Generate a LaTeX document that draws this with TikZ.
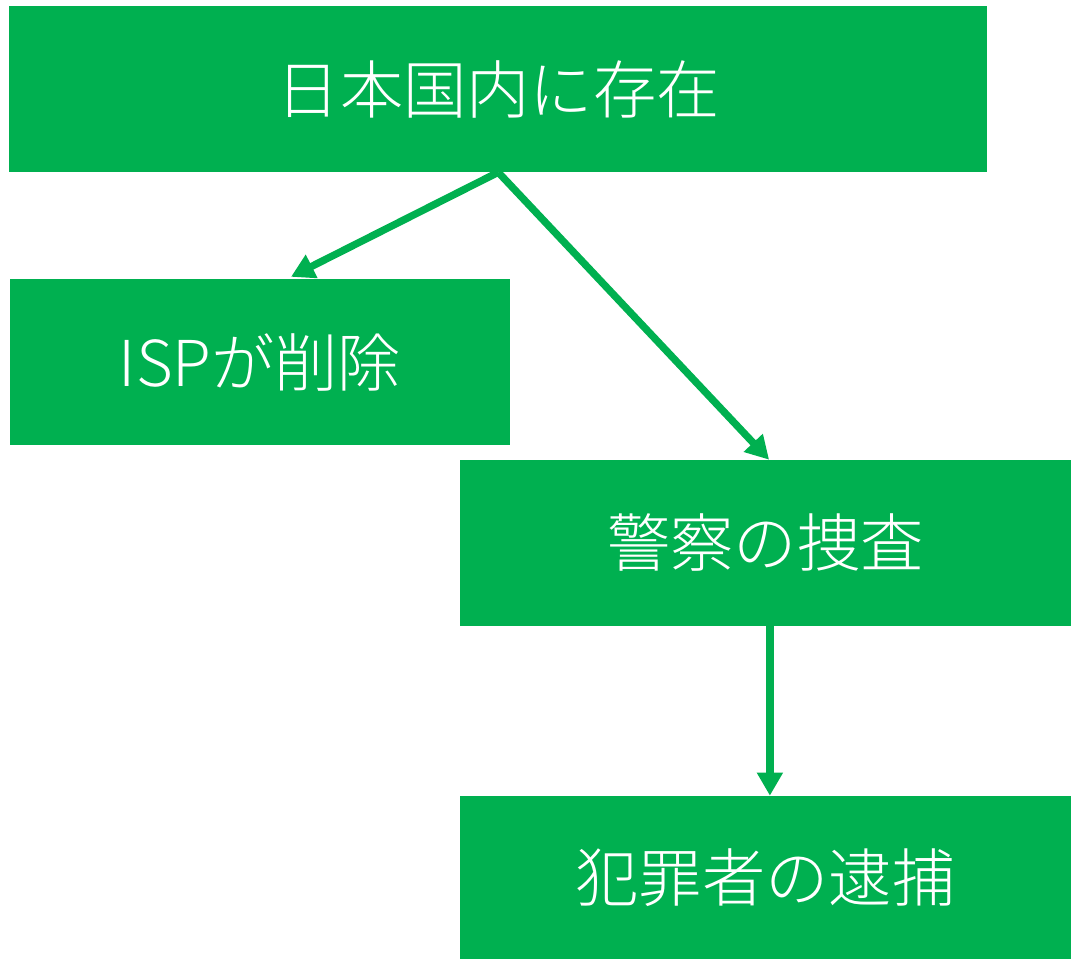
\documentclass[tikz,border=0pt]{standalone}
\usepackage{fontspec}
\setmainfont{Noto Sans CJK JP}[UprightFont=* Light]
\usetikzlibrary{arrows.meta}
\definecolor{officegreen}{HTML}{00B050}
\begin{document}
\begin{tikzpicture}[
	box/.style={
		rectangle,
		fill=officegreen,
		text=white,
		align=center,
		inner sep=0pt,
		minimum height=4.15cm,
		font=\fontsize{45}{49}\selectfont
	},
	arr/.style={
		draw=officegreen,
		line width=5.2pt,
		-{Triangle[length=0.58cm,width=0.62cm]}
	},
]

%% Canvas %%
\useasboundingbox (0,0) rectangle (26.775,23.975);

%% Boxes %%
\node[box, minimum width=24.44cm] (domestic) at (12.456,21.75) {日本国内に存在};
\node[box, minimum width=12.5cm] (isp) at (6.5,14.9125) {ISPが削除};
\node[box, minimum width=15.275cm] (police) at (19.1375,10.4) {警察の捜査};
\node[box, minimum width=15.275cm, minimum height=4.075cm] (arrest) at (19.1375,2.0375) {犯罪者の逮捕};

%% Arrows %%
\draw[arr] (domestic.south) -- ([xshift=0.775cm, yshift=0.06cm]isp.north);
\draw[arr] (domestic.south) -- ([xshift=0.09cm]police.north);
\draw[arr] ([xshift=0.11cm]police.south) -- ([xshift=0.11cm]arrest.north);

\end{tikzpicture}
\end{document}
